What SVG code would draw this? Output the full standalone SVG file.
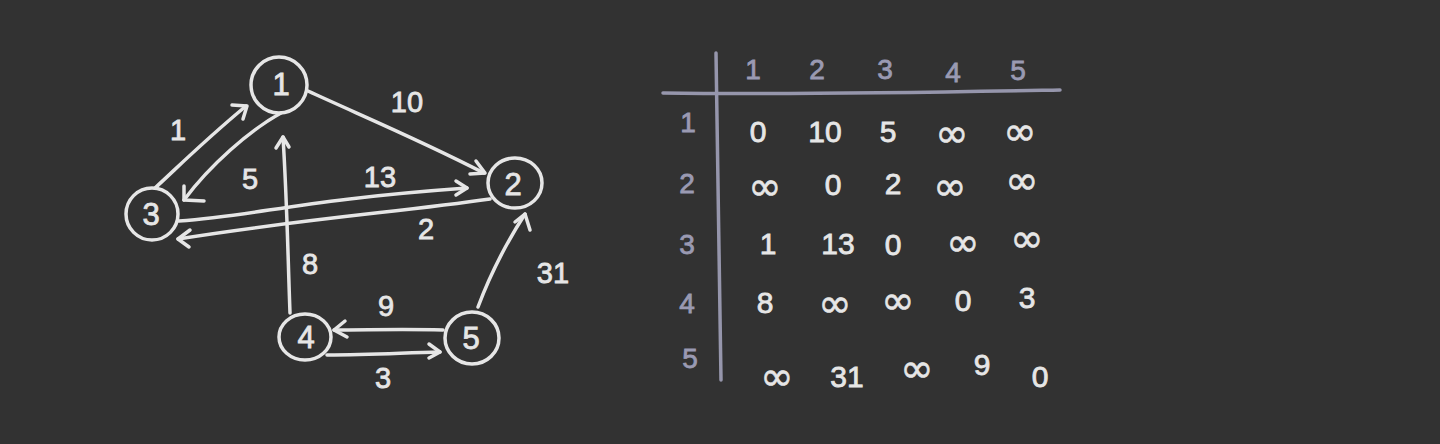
<svg xmlns="http://www.w3.org/2000/svg" width="1440" height="444" viewBox="0 0 1440 444">
<style>
.bg{fill:#323232}
.ln{fill:none;stroke:#e6e6e6;stroke-width:3.5;stroke-linecap:round;stroke-linejoin:round}
.tl{fill:none;stroke:#9696ac;stroke-width:3.5;stroke-linecap:round}
.t{font-family:"Liberation Sans","DejaVu Sans",sans-serif;fill:#e6e6e6;stroke:#e6e6e6;stroke-width:0.8;text-anchor:middle;dominant-baseline:central}
.n{font-size:31px}
.e{font-size:29px}
.c{font-size:30px}
.inf{font-family:"DejaVu Sans",sans-serif;font-size:40px;fill:#e6e6e6;stroke:#e6e6e6;stroke-width:0.6;text-anchor:middle;dominant-baseline:central}
.h{font-family:"Liberation Sans","DejaVu Sans",sans-serif;fill:#9a9ab2;stroke:#9a9ab2;stroke-width:0.8;text-anchor:middle;dominant-baseline:central;font-size:28px}
</style>
<rect class="bg" x="0" y="0" width="1440" height="444"/>

<g id="edges">
  <!-- 3 -> 1 (1) -->
  <path class="ln" d="M155 188 C180 165 205 140 246 106"/>
  <path class="ln" d="M232 105 L247 106 L243 119"/>
  <!-- 1 -> 3 (5) -->
  <path class="ln" d="M281 113 C250 130 210 165 184 200"/>
  <path class="ln" d="M184 186 L184 200 L204 201"/>
  <!-- 1 -> 2 (10) -->
  <path class="ln" d="M308 91 C360 115 420 140 484 173"/>
  <path class="ln" d="M476 161 L485 173 L470 174"/>
  <!-- 3 -> 2 (13) -->
  <path class="ln" d="M179 221 C260 215 300 200 467 188"/>
  <path class="ln" d="M456 181 L467 188 L456 195"/>
  <!-- 2 -> 3 (2) -->
  <path class="ln" d="M490 199 C400 212 310 218 178 239"/>
  <path class="ln" d="M190 230 L178 239 L189 247"/>
  <!-- 4 -> 1 (8) -->
  <path class="ln" d="M290 313 C288 260 287 200 283 137"/>
  <path class="ln" d="M276 148 L283 137 L289 147"/>
  <!-- 5 -> 4 (9) -->
  <path class="ln" d="M443 330 C400 329 370 330 334 330"/>
  <path class="ln" d="M345 321 L334 330 L347 337"/>
  <!-- 4 -> 5 (3) -->
  <path class="ln" d="M327 355 C370 355 400 353 440 352"/>
  <path class="ln" d="M429 344 L440 352 L429 358"/>
  <!-- 5 -> 2 (31) -->
  <path class="ln" d="M478 307 C490 275 505 245 525 214"/>
  <path class="ln" d="M515 222 L525 214 L530 230"/>
</g>

<g id="node1">
  <ellipse class="ln" cx="279" cy="85" rx="28" ry="28"/>
  <text class="t n" x="281" y="84">1</text>
</g>
<g id="node2">
  <ellipse class="ln" cx="515" cy="183" rx="27" ry="25"/>
  <text class="t n" x="513" y="184">2</text>
</g>
<g id="node3">
  <ellipse class="ln" cx="152" cy="214" rx="26" ry="26"/>
  <text class="t n" x="151" y="214">3</text>
</g>
<g id="node4">
  <ellipse class="ln" cx="305" cy="337" rx="26" ry="23"/>
  <text class="t n" x="306" y="337">4</text>
</g>
<g id="node5">
  <ellipse class="ln" cx="472" cy="338" rx="27" ry="26"/>
  <text class="t n" x="471" y="338">5</text>
</g>

<g id="edge-labels">
  <text class="t e" x="178" y="130">1</text>
  <text class="t e" x="250" y="179">5</text>
  <text class="t e" x="407" y="102">10</text>
  <text class="t e" x="380" y="177">13</text>
  <text class="t e" x="426" y="229">2</text>
  <text class="t e" x="310" y="264">8</text>
  <text class="t e" x="386" y="306">9</text>
  <text class="t e" x="383" y="378">3</text>
  <text class="t e" x="553" y="273">31</text>
</g>

<g id="table">
  <path class="tl" d="M716 53 C718 150 719 260 721 380"/>
  <path class="tl" d="M663 93 C800 95 950 92 1060 90"/>
  <text class="h" x="753" y="69">1</text>
  <text class="h" x="817" y="69">2</text>
  <text class="h" x="885" y="69">3</text>
  <text class="h" x="953" y="72">4</text>
  <text class="h" x="1018" y="70">5</text>
  <text class="h" x="688" y="122">1</text>
  <text class="h" x="687" y="183">2</text>
  <text class="h" x="687" y="244">3</text>
  <text class="h" x="687" y="303">4</text>
  <text class="h" x="690" y="358">5</text>

  <text class="t c" x="758" y="131">0</text>
  <text class="t c" x="825" y="131">10</text>
  <text class="t c" x="888" y="131">5</text>
  <text class="inf" x="952" y="133">∞</text>
  <text class="inf" x="1020" y="131">∞</text>

  <text class="inf" x="765" y="186">∞</text>
  <text class="t c" x="833" y="184">0</text>
  <text class="t c" x="893" y="183">2</text>
  <text class="inf" x="950" y="186">∞</text>
  <text class="inf" x="1022" y="180">∞</text>

  <text class="t c" x="768" y="243">1</text>
  <text class="t c" x="838" y="243">13</text>
  <text class="t c" x="893" y="244">0</text>
  <text class="inf" x="963" y="242">∞</text>
  <text class="inf" x="1027" y="238">∞</text>

  <text class="t c" x="765" y="302">8</text>
  <text class="inf" x="835" y="303">∞</text>
  <text class="inf" x="898" y="300">∞</text>
  <text class="t c" x="963" y="300">0</text>
  <text class="t c" x="1027" y="297">3</text>

  <text class="inf" x="777" y="376">∞</text>
  <text class="t c" x="847" y="376">31</text>
  <text class="inf" x="917" y="368">∞</text>
  <text class="t c" x="982" y="364">9</text>
  <text class="t c" x="1040" y="376">0</text>
</g>
</svg>
